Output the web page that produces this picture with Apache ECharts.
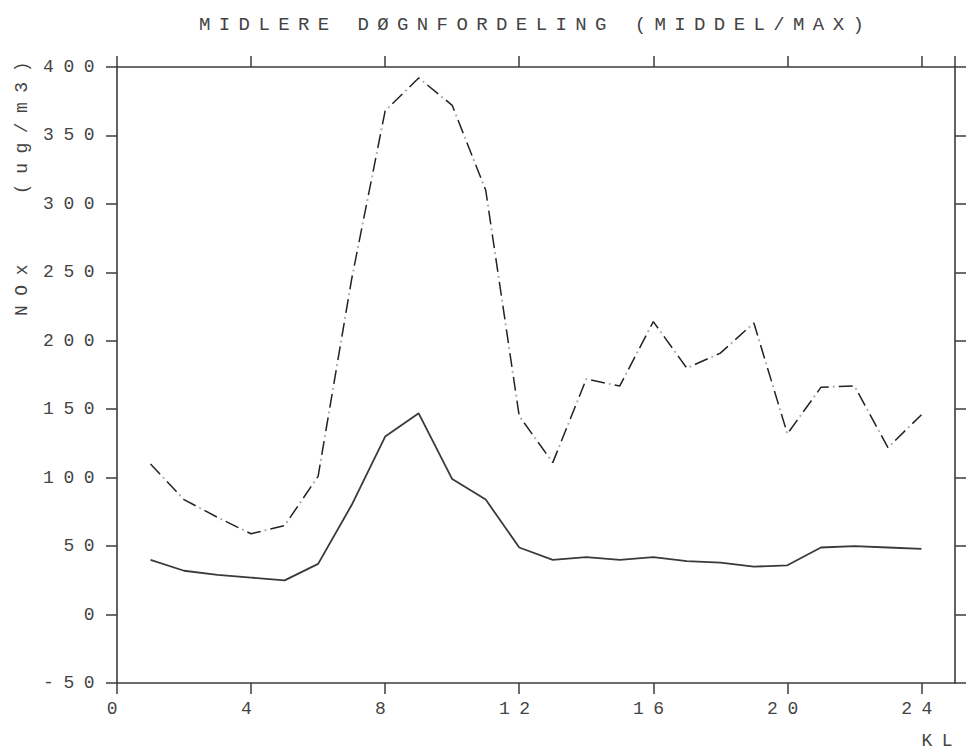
<!DOCTYPE html>
<html>
<head>
<meta charset="utf-8">
<script src="https://cdn.jsdelivr.net/npm/echarts@6/dist/echarts.min.js"></script>
<style>
  html, body { margin: 0; padding: 0; background: #fff; }
  #chart { width: 967px; height: 752px; }
  #chart text { letter-spacing: 9.5px; }
  #chart text[style*="19px"] { letter-spacing: 8.4px; }
</style>
</head>
<body>
<div id="chart"></div>
<script>
const titleText = 'MIDLERE DØGNFORDELING (MIDDEL/MAX)';
const yAxisTitle = 'NOx   (ug/m3)';
const xAxisTitle = 'KL';
const hours = [1,2,3,4,5,6,7,8,9,10,11,12,13,14,15,16,17,18,19,20,21,22,23,24];
const meanValues = [40, 32, 29, 27, 25, 37, 80, 130, 147, 99, 84, 49, 40, 42, 40, 42, 39, 38, 35, 36, 49, 50, 49, 48];
const maxValues = [110, 84, 71, 59, 65, 101, 245, 368, 392, 372, 310, 145, 111, 172, 167, 214, 180, 191, 213, 132, 166, 167, 122, 146];
const xTicks = [0, 4, 8, 12, 16, 20, 24];
const yTicks = [-50, 0, 50, 100, 150, 200, 250, 300, 350, 400];

const FONT = '"Liberation Mono", "DejaVu Sans Mono", monospace';
const AX = '#3c3c3c';
const TXT = '#444';

const meanData = hours.map((h, i) => [h, meanValues[i]]);
const maxData = hours.map((h, i) => [h, maxValues[i]]);

const chart = echarts.init(document.getElementById('chart'), null, { renderer: 'svg' });

const baseX = {
  type: 'value', min: 0, max: 25, interval: 4,
  splitLine: { show: false },
  axisLine: { show: true, onZero: false, lineStyle: { color: AX, width: 1.6 } },
  axisTick: { show: true, length: 11, lineStyle: { color: AX, width: 1.5 } }
};
const baseY = {
  type: 'value', min: -50, max: 400, interval: 50,
  splitLine: { show: false },
  axisLine: { show: true, onZero: false, lineStyle: { color: AX, width: 1.6 } },
  axisTick: { show: true, length: 11, lineStyle: { color: AX, width: 1.5 } }
};

chart.setOption({
  backgroundColor: '#fff',
  animation: false,
  title: {
    text: titleText,
    left: 194, top: 10,
    textStyle: { fontFamily: FONT, fontSize: 19, fontWeight: 'normal', color: TXT }
  },
  grid: { left: 117, right: 12, top: 67, bottom: 69 },
  xAxis: [
    Object.assign({}, baseX, {
      position: 'bottom',
      axisLabel: {
        show: true, margin: 17, color: TXT, fontFamily: FONT, fontSize: 18,
        showMaxLabel: false,
        formatter: v => (xTicks.indexOf(v) >= 0 ? String(v) : '')
      }
    }),
    Object.assign({}, baseX, { position: 'top', axisLabel: { show: false } })
  ],
  yAxis: [
    Object.assign({}, baseY, {
      position: 'left',
      axisLabel: {
        show: true, margin: 13, color: TXT, fontFamily: FONT, fontSize: 18,
        formatter: v => (yTicks.indexOf(v) >= 0 ? String(v) : '')
      }
    }),
    Object.assign({}, baseY, { position: 'right', axisLabel: { show: false } })
  ],
  graphic: [
    {
      type: 'text', x: 22, y: 184, rotation: Math.PI / 2,
      style: { text: yAxisTitle, fill: TXT, font: '18px ' + FONT, align: 'center', verticalAlign: 'middle' }
    },
    {
      type: 'text', x: 962, y: 741,
      style: { text: xAxisTitle, fill: TXT, font: '18px ' + FONT, align: 'right', verticalAlign: 'middle' }
    }
  ],
  series: [
    {
      name: 'Middel', type: 'line', data: meanData, symbol: 'none',
      lineStyle: { color: '#3a3a3a', width: 1.8 }
    },
    {
      name: 'Max', type: 'line', data: maxData, symbol: 'none',
      lineStyle: { color: '#222', width: 1.5, type: [14, 10] }
    },
    {
      name: 'Max dots', type: 'line', data: maxData, symbol: 'none', silent: true,
      lineStyle: { color: '#b0b0b0', width: 2, type: [2, 22], dashOffset: 6 }
    }
  ]
});
</script>
</body>
</html>
